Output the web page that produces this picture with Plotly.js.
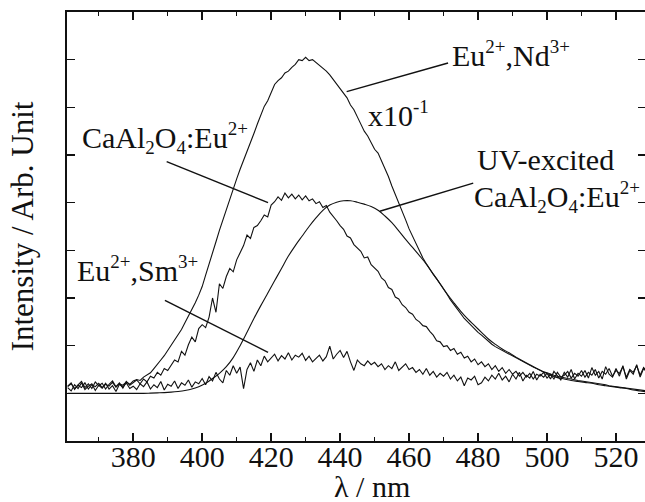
<!DOCTYPE html>
<html>
<head>
<meta charset="utf-8">
<script src="https://cdn.plot.ly/plotly-3.0.1.min.js"></script>
<style>
html,body{margin:0;padding:0;overflow:hidden;background:#fff;}
#chart{width:650px;height:502px;}
</style>
</head>
<body>
<div id="chart"></div>
<script>
// wavelength grids (nm)
const wlStart = 361, wlEnd = 529;
const wavelength = [];
for (let w = wlStart; w <= wlEnd; w += 1) wavelength.push(w);
const wavelengthUV = [];
for (let w = wlStart; w <= wlEnd; w += 2) wavelengthUV.push(w);

// Eu2+,Nd3+ (x10^-1)
const ndValues = [
0.14,0.20,0.10,0.17,0.12,0.22,0.09,0.18,0.14,0.21,
0.12,0.19,0.15,0.23,0.13,0.20,0.17,0.24,0.19,0.26,
0.29,0.27,0.34,0.38,0.43,0.52,0.60,0.70,0.79,0.90,
0.99,1.10,1.22,1.34,1.48,1.61,1.75,1.90,2.06,2.24,
2.48,2.73,2.97,3.18,3.42,3.64,3.85,4.10,4.30,4.50,
4.70,4.88,5.08,5.25,5.45,5.65,5.82,6.02,6.14,6.30,
6.48,6.56,6.62,6.72,6.76,6.84,6.90,7.00,6.98,7.05,
6.98,7.00,6.94,6.90,6.82,6.76,6.68,6.58,6.50,6.40,
6.30,6.20,6.05,5.95,5.80,5.66,5.50,5.40,5.25,5.12,
5.04,4.88,4.70,4.55,4.35,4.18,4.00,3.82,3.64,3.45,
3.30,3.12,2.98,2.84,2.72,2.60,2.50,2.40,2.30,2.20,
2.08,1.96,1.86,1.76,1.66,1.57,1.50,1.42,1.36,1.28,
1.22,1.15,1.08,1.03,0.98,0.94,0.90,0.86,0.82,0.78,
0.74,0.70,0.66,0.62,0.59,0.55,0.52,0.48,0.45,0.43,
0.40,0.38,0.36,0.34,0.33,0.31,0.30,0.28,0.27,0.26,
0.25,0.24,0.22,0.21,0.20,0.19,0.18,0.16,0.15,0.14,
0.13,0.12,0.11,0.10,0.09,0.08,0.07,0.06,0.05
];

// CaAl2O4:Eu2+ (afterglow)
const caValues = [
0.15,0.22,0.08,0.18,0.25,0.12,0.20,0.10,0.24,0.16,
0.21,0.09,0.19,0.26,0.14,0.22,0.11,0.25,0.17,0.23,
0.28,0.20,0.30,0.24,0.36,0.32,0.44,0.38,0.52,0.48,
0.60,0.70,0.66,0.88,0.80,1.02,1.18,1.08,1.36,1.44,
1.38,1.60,2.00,1.70,2.30,2.20,2.45,2.62,2.55,2.80,
2.95,3.10,3.32,3.25,3.48,3.52,3.62,3.74,3.70,3.95,
4.02,4.12,4.05,4.20,4.10,4.18,4.08,4.16,4.06,4.14,
4.04,4.08,3.98,4.02,3.90,3.94,3.80,3.72,3.62,3.52,
3.44,3.30,3.26,3.12,3.05,2.98,2.84,2.86,2.70,2.62,
2.56,2.42,2.36,2.22,2.18,2.02,1.98,1.86,1.80,1.70,
1.66,1.55,1.50,1.42,1.40,1.30,1.22,1.10,1.08,0.98,
1.00,0.90,0.94,0.82,0.86,0.74,0.78,0.66,0.72,0.60,
0.66,0.56,0.62,0.50,0.58,0.46,0.54,0.42,0.50,0.40,
0.46,0.36,0.44,0.34,0.42,0.30,0.40,0.36,0.44,0.32,
0.40,0.30,0.44,0.34,0.38,0.46,0.32,0.42,0.36,0.48,
0.34,0.44,0.38,0.50,0.32,0.46,0.40,0.52,0.36,0.48,
0.42,0.56,0.34,0.50,0.44,0.58,0.38,0.54,0.46
];

// Eu2+,Sm3+
const smValues = [
0.12,0.05,0.18,0.10,0.22,0.08,0.15,0.20,0.06,0.17,
0.11,0.21,0.09,0.16,0.04,0.19,0.13,0.22,0.10,0.15,
0.08,0.20,0.14,0.24,0.09,0.18,0.12,0.25,0.07,0.19,
0.15,0.26,0.10,0.22,0.17,0.28,0.13,0.24,0.20,0.31,
0.18,0.35,0.26,0.44,0.30,0.22,0.48,0.38,0.58,0.42,
0.55,0.10,0.50,0.64,0.46,0.70,0.58,0.78,0.66,0.74,
0.82,0.68,0.79,0.72,0.85,0.70,0.80,0.76,0.84,0.69,
0.78,0.66,0.74,0.80,0.68,0.77,0.99,0.72,0.82,0.90,
0.75,0.88,0.66,0.48,0.70,0.62,0.58,0.68,0.60,0.65,
0.56,0.62,0.50,0.58,0.52,0.66,0.48,0.55,0.62,0.50,
0.54,0.44,0.50,0.40,0.52,0.38,0.46,0.34,0.42,0.36,
0.44,0.30,0.38,0.26,0.34,0.16,0.32,0.28,0.36,0.18,
0.22,0.34,0.26,0.38,0.30,0.42,0.28,0.36,0.24,0.40,
0.30,0.44,0.26,0.38,0.32,0.46,0.28,0.40,0.34,0.42,
0.30,0.46,0.36,0.28,0.44,0.34,0.50,0.30,0.42,0.36,
0.48,0.32,0.54,0.38,0.46,0.30,0.56,0.40,0.34,0.52,
0.36,0.58,0.30,0.48,0.40,0.60,0.34,0.52,0.44
];

// UV-excited CaAl2O4:Eu2+ (2 nm grid)
const uvValues = [
0,0,0,0,0,0,0,0,0,0,
0,0,0.005,0.01,0.015,0.025,0.04,0.06,0.09,0.14,
0.21,0.31,0.42,0.56,0.75,1.00,1.28,1.57,1.84,2.10,
2.36,2.62,2.88,3.10,3.30,3.50,3.68,3.84,3.95,4.01,
4.04,4.04,4.01,3.97,3.92,3.84,3.72,3.58,3.41,3.23,
3.06,2.89,2.71,2.50,2.30,2.09,1.90,1.72,1.56,1.42,
1.28,1.14,1.03,0.93,0.85,0.76,0.68,0.60,0.52,0.45,
0.38,0.33,0.30,0.27,0.25,0.23,0.21,0.18,0.16,0.14,
0.12,0.10,0.07,0.05,0.03
];

const xTickVals = [380,400,420,440,460,480,500,520];
const xTickText = ['380','400','420','440','460','480','500','520'];

const FONT = '"Liberation Serif", "Times New Roman", Times, serif';
const lineStyle = {color:'#111', width:1.1};

const traces = [
  {x: wavelength, y: ndValues, name:'Eu2+,Nd3+ x10^-1', mode:'lines', line: lineStyle},
  {x: wavelength, y: caValues, name:'CaAl2O4:Eu2+', mode:'lines', line: lineStyle},
  {x: wavelength, y: smValues, name:'Eu2+,Sm3+', mode:'lines', line: lineStyle},
  {x: wavelengthUV, y: uvValues, name:'UV-excited CaAl2O4:Eu2+', mode:'lines', line: {color:'#111', width:1.1, shape:'spline'}}
];

function sp(t) { return '<span style="font-size:19px">' + t + '</span>'; }
const caLabel = 'CaAl<sub>' + sp('2') + '</sub>O<sub>' + sp('4') + '</sub>:Eu<sup>' + sp('2+') + '</sup>';
const ndLabel = 'Eu<sup>' + sp('2+') + '</sup>,Nd<sup>' + sp('3+') + '</sup>';
const smLabel = 'Eu<sup>' + sp('2+') + '</sup>,Sm<sup>' + sp('3+') + '</sup>';
const xLabel = 'x10<sup>' + sp('-1') + '</sup>';

function label(text, x, y, anchor) {
  return {text: text, x: x, y: y, xref:'x', yref:'y', xanchor: anchor || 'left', yanchor:'middle',
          showarrow:false, font:{family:FONT, size:30, color:'#111'}};
}
function leader(x0, y0, x1, y1) {
  return {type:'line', xref:'x', yref:'y', x0:x0, y0:y0, x1:x1, y1:y1,
          line:{color:'#111', width:1.5}};
}

const layout = {
  width: 650, height: 502,
  margin: {l:67, r:4, t:12, b:61},
  paper_bgcolor:'#fff', plot_bgcolor:'#fff',
  showlegend:false,
  font:{family:FONT, size:30, color:'#111'},
  xaxis:{
    range:[360.8, 528.7], tickvals:xTickVals, ticktext:xTickText,
    ticks:'inside', ticklen:8, tickwidth:1.5, tickcolor:'#111',
    minor:{dtick:10, tick0:370, ticks:'inside', ticklen:4, tickwidth:1.2, tickcolor:'#111'},
    showline:true, linecolor:'#111', linewidth:1.8, mirror:'ticks',
    showgrid:false, zeroline:false,
    ticklabelposition:'outside',
    ticklabelstandoff:-12,
    tickfont:{family:FONT, size:30, color:'#111'}
  },
  yaxis:{
    range:[-1, 8], dtick:1, tick0:0,
    ticks:'inside', ticklen:8, tickwidth:1.5, tickcolor:'#111',
    showticklabels:false,
    showline:true, linecolor:'#111', linewidth:1.8, mirror:'ticks',
    showgrid:false, zeroline:false,
    title:{text:'Intensity / Arb. Unit', font:{family:FONT, size:31, color:'#111'}, standoff:22}
  },
  annotations:[
    label(ndLabel, 471.9, 7.11),
    label(xLabel, 447.6, 5.85),
    label('UV-excited', 479.1, 4.90),
    label(caLabel, 527.4, 4.11, 'right'),
    label(caLabel, 364.5, 5.35),
    label(smLabel, 363.1, 2.60),
    {text:'λ / nm', x:449.2, y:-0.1072, xref:'x', yref:'paper', xanchor:'center', yanchor:'middle',
     showarrow:false, font:{family:FONT, size:30, color:'#111'}}
  ],
  shapes:[
    leader(471.3, 6.93, 441.9, 6.33),
    leader(478.6, 4.41, 451.5, 3.82),
    leader(389.7, 4.86, 419.1, 4.00),
    leader(389.2, 1.95, 419.1, 0.86)
  ]
};

Plotly.newPlot('chart', traces, layout, {staticPlot:true, displayModeBar:false});
</script>
</body>
</html>
